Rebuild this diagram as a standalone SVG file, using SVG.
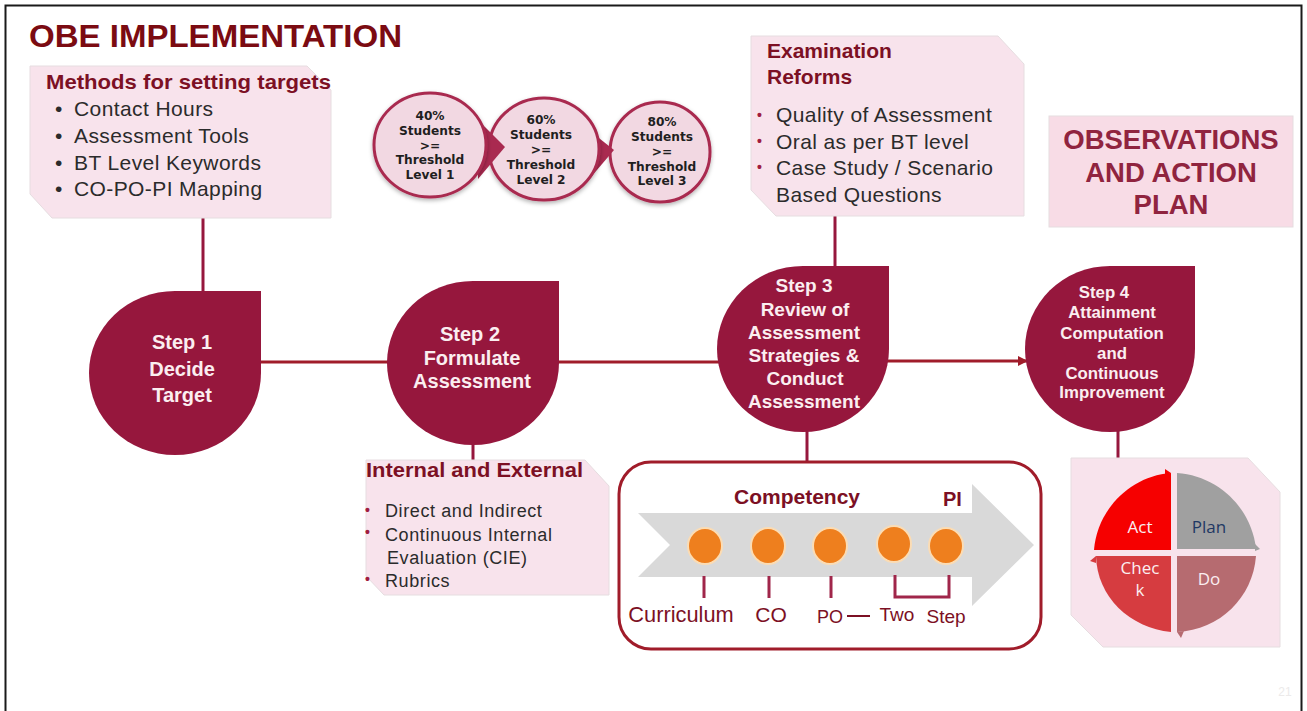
<svg xmlns="http://www.w3.org/2000/svg" width="1307" height="711" viewBox="0 0 1307 711">
<defs>
<marker id="arr" markerWidth="12" markerHeight="12" refX="9" refY="5" orient="auto" markerUnits="userSpaceOnUse"><path d="M0,0L10,5L0,10Z" fill="#a01c2a"/></marker>
<filter id="sh" x="-10%" y="-10%" width="120%" height="125%"><feDropShadow dx="0" dy="2" stdDeviation="2" flood-color="#000" flood-opacity=".3"/></filter>
</defs>
<style>
text{font-family:"Liberation Sans",Arial,sans-serif}
.note{fill:#f8e3ec;stroke:#e6dde0;stroke-width:1}
.step{fill:#96173d}
.st{fill:#fbeef0;font-weight:700;text-anchor:middle}
.hd{fill:#7c1024;font-weight:700}
.body{fill:#2b2b2b;font-size:21px;letter-spacing:.4px}
.small{font-size:18px;letter-spacing:.6px}
.bul{fill:#a01c40;font-size:14px;font-weight:700}
.lvl{fill:#1f1f1f;font-weight:700;font-size:12.200px;text-anchor:middle;font-family:"DejaVu Sans",sans-serif}
.circ{fill:#f2d8e2;stroke:#a92a50;stroke-width:3;filter:url(#sh)}
.tri{fill:#a92a50}
.link{stroke:#96173d;stroke-width:3;fill:none}
.dot{fill:#ee7f1e;stroke:#fbdcb4;stroke-width:2}
.tick{stroke:#a0264a;stroke-width:3;fill:none}
.lab{fill:#7c1024;text-anchor:middle}
.pd{fill:#fbeef0;font-size:17px;text-anchor:middle;font-family:"Open Sans",sans-serif}
</style>
<rect width="1307" height="711" fill="#fff"/>
<path d="M5.500,711V5.500H1301.500V711" fill="none" stroke="#1a1a1a" stroke-width="2"/>
<text id="title" x="29" y="47" font-size="32" font-weight="700" fill="#7b0b12" textLength="373" lengthAdjust="spacingAndGlyphs">OBE IMPLEMENTATION</text>

<g id="connectors">
<path class="link" d="M203,216V293"/>
<path class="link" d="M835,214V268"/>
<path class="link" d="M473,443V460"/>
<path class="link" d="M807,429V462"/>
<path class="link" d="M1118,429V458"/>
<path d="M259,362H389M557,362H719" stroke="#a01c2a" stroke-width="3" fill="none"/>
<path d="M887,361H1027" stroke="#a01c2a" stroke-width="3" fill="none" marker-end="url(#arr)"/>
</g>

<g id="methods">
<path class="note" d="M30,66H307L331,90V218H52L30,194Z"/>
<text class="hd" x="46" y="89" font-size="21" textLength="285" lengthAdjust="spacingAndGlyphs">Methods for setting targets</text>
<g class="body">
<text x="55" y="116">•</text><text x="74" y="116">Contact Hours</text>
<text x="55" y="143">•</text><text x="74" y="143">Assessment Tools</text>
<text x="55" y="170">•</text><text x="74" y="170">BT Level Keywords</text>
<text x="55" y="196">•</text><text x="74" y="196">CO-PO-PI Mapping</text>
</g>
</g>

<g id="thresholds">
<ellipse class="circ" cx="660" cy="152" rx="50" ry="50"/>
<path class="tri" d="M585,127L614,150L585,184Z"/>
<ellipse class="circ" cx="544" cy="149" rx="55" ry="51"/>
<path class="tri" d="M478,120L505,147L478,179Z"/>
<ellipse class="circ" cx="430" cy="145" rx="56" ry="52"/>
<text class="lvl" x="430" y="120">40%<tspan x="430" dy="14.500">Students</tspan><tspan x="430" dy="15">&gt;=</tspan><tspan x="430" dy="14.500">Threshold</tspan><tspan x="430" dy="14.500">Level 1</tspan></text>
<text class="lvl" x="541" y="124">60%<tspan x="541" dy="15">Students</tspan><tspan x="541" dy="15">&gt;=</tspan><tspan x="541" dy="15">Threshold</tspan><tspan x="541" dy="15">Level 2</tspan></text>
<text class="lvl" x="662" y="126">80%<tspan x="662" dy="14.500">Students</tspan><tspan x="662" dy="15">&gt;=</tspan><tspan x="662" dy="15">Threshold</tspan><tspan x="662" dy="14.500">Level 3</tspan></text>
</g>

<g id="exam">
<path class="note" d="M751,36H998L1024,64V216H776L751,190Z"/>
<text class="hd" x="767" y="58" font-size="21">Examination</text>
<text class="hd" x="767" y="84" font-size="21">Reforms</text>
<g class="body">
<text class="bul" x="757" y="120">•</text><text x="776" y="122">Quality of Assessment</text>
<text class="bul" x="757" y="146">•</text><text x="776" y="149">Oral as per BT level</text>
<text class="bul" x="757" y="172">•</text><text x="776" y="175">Case Study / Scenario</text>
<text x="776" y="202">Based Questions</text>
</g>
</g>

<g id="observations">
<rect x="1049" y="116" width="244" height="111" fill="#f8dce6" stroke="#e6dde0"/>
<g font-size="27.500" font-weight="700" fill="#90243f" text-anchor="middle">
<text x="1171" y="149">OBSERVATIONS</text>
<text x="1171" y="182">AND ACTION</text>
<text x="1171" y="214">PLAN</text>
</g>
</g>

<g id="step1">
<path class="step" d="M175,291A86,82 0 1 0 261,373V291Z"/>
<g class="st" font-size="20"><text x="182" y="349">Step 1</text><text x="182" y="376">Decide</text><text x="182" y="402">Target</text></g>
</g>
<g id="step2">
<path class="step" d="M473,281A86,82 0 1 0 559,363V281Z"/>
<g class="st" font-size="20"><text x="470" y="341">Step 2</text><text x="472" y="365">Formulate</text><text x="472" y="388">Assessment</text></g>
</g>
<g id="step3">
<path class="step" d="M803,266A86,83 0 1 0 889,349V266Z"/>
<g class="st" font-size="19"><text x="804" y="292">Step 3</text><text x="805" y="316">Review of</text><text x="804" y="339">Assessment</text><text x="804" y="362">Strategies &amp;</text><text x="805" y="385">Conduct</text><text x="804" y="408">Assessment</text></g>
</g>
<g id="step4">
<path class="step" d="M1110,266A85,83 0 1 0 1195,349V266Z"/>
<g class="st" font-size="16.800"><text x="1104" y="298">Step 4</text><text x="1112" y="318">Attainment</text><text x="1112" y="339">Computation</text><text x="1112" y="359">and</text><text x="1112" y="379">Continuous</text><text x="1112" y="398">Improvement</text></g>
</g>

<g id="internal">
<path class="note" d="M366,460H585L609,486V595H384L366,576Z"/>
<text class="hd" x="366" y="477" font-size="20.500" textLength="217" lengthAdjust="spacingAndGlyphs">Internal and External</text>
<g class="body small">
<text class="bul" x="365" y="515">•</text><text x="385" y="517">Direct and Indirect</text>
<text class="bul" x="365" y="537">•</text><text x="385" y="541">Continuous Internal</text>
<text x="387" y="564">Evaluation (CIE)</text>
<text class="bul" x="365" y="584">•</text><text x="385" y="587">Rubrics</text>
</g>
</g>

<g id="competency">
<rect x="619" y="462" width="422" height="187" rx="32" fill="#fff" stroke="#a01c2a" stroke-width="3"/>
<path d="M638,513H972V484L1034,545L972,606V577H638L670,545Z" fill="#d9d9d9"/>
<text class="hd" x="734" y="504" font-size="21">Competency</text>
<text class="hd" x="943" y="506" font-size="20">PI</text>
<ellipse class="dot" cx="705" cy="546" rx="17" ry="18"/>
<ellipse class="dot" cx="768" cy="546" rx="17" ry="18"/>
<ellipse class="dot" cx="830" cy="546" rx="17" ry="18"/>
<ellipse class="dot" cx="894" cy="544" rx="17" ry="18"/>
<ellipse class="dot" cx="946" cy="546" rx="17" ry="18"/>
<path class="tick" d="M704,598V576M769,598V576M831,598V576M895,575V597H949V575"/>
<g class="lab">
<text x="681" y="622" font-size="21.800">Curriculum</text>
<text x="771" y="622" font-size="21">CO</text>
<text x="830" y="623" font-size="18">PO</text>
<text x="897" y="621" font-size="19">Two</text>
<text x="946" y="623" font-size="19">Step</text>
</g>
<path d="M847,616H870" stroke="#7c1024" stroke-width="2"/>
</g>

<g id="pdca">
<path class="note" d="M1071,458H1248L1280,492V647H1103L1071,615Z"/>
<path d="M1171,473V550H1094C1097,510 1130,476 1171,473Z" fill="#f60000"/>
<path d="M1177,473V549H1256C1252,510 1220,476 1177,473Z" fill="#a0a0a0"/>
<path d="M1171,556V632C1130,628 1097,597 1096,556Z" fill="#d63c40"/>
<path d="M1177,556V632C1220,630 1253,597 1256,556Z" fill="#b66b70"/>
<path d="M1165,469L1171,473L1165,476Z" fill="#f60000"/>
<path d="M1255,544L1260,549L1255,551Z" fill="#a0a0a0"/>
<path d="M1096,556L1090,561L1096,563Z" fill="#d63c40"/>
<path d="M1177,632L1184,631L1181,638Z" fill="#b66b70"/>
<text class="pd" x="1140" y="533">Act</text>
<text class="pd" x="1209" y="533" style="fill:#1f3864">Plan</text>
<text class="pd" x="1140" y="574">Chec</text>
<text class="pd" x="1140" y="596">k</text>
<text class="pd" x="1209" y="585">Do</text>
</g>
<text x="1285" y="696" font-size="12" fill="#eceaea" text-anchor="middle">21</text>
</svg>
